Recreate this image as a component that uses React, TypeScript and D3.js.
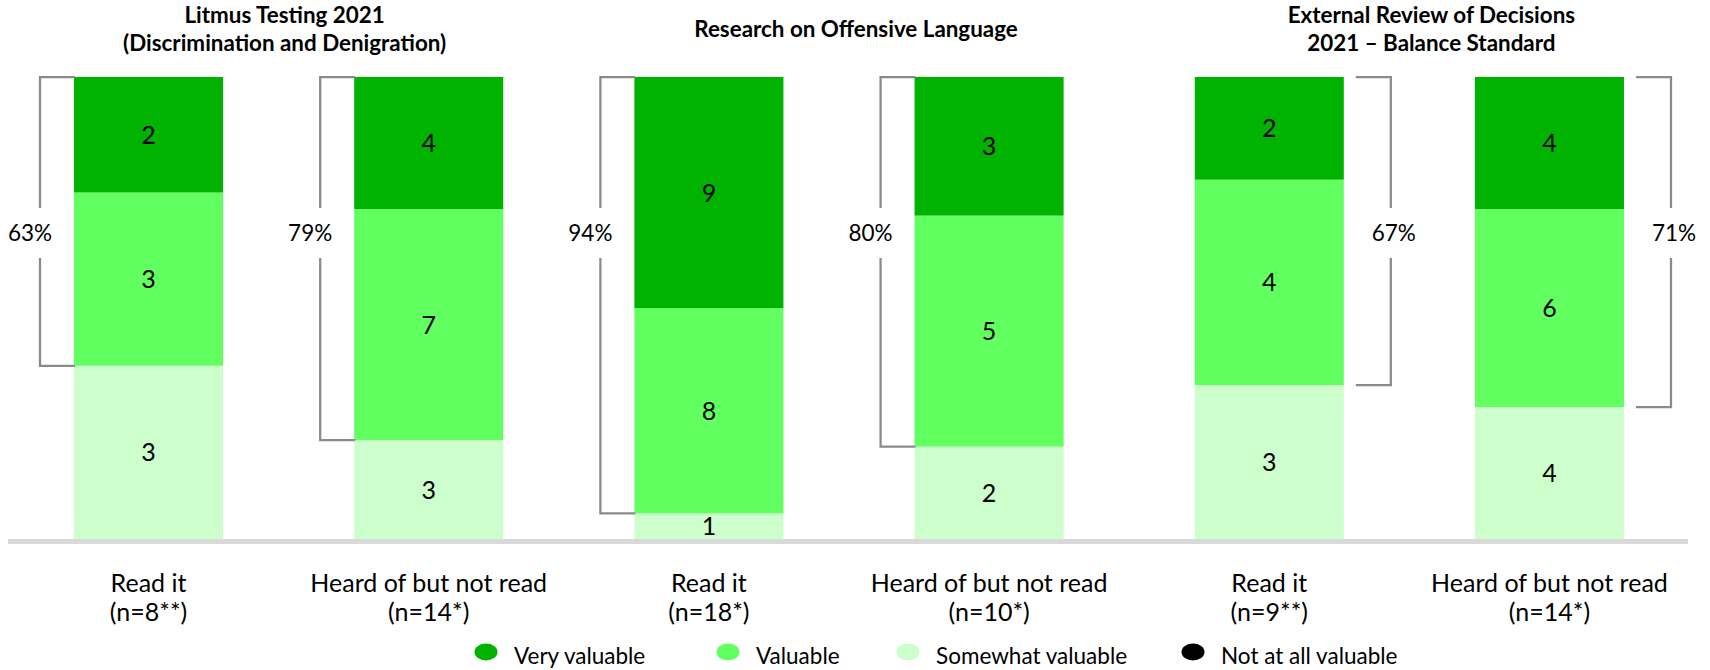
import React, { useEffect, useRef } from "react";
import * as d3 from "d3";

// chart data
const groupTitles = [
  ["Litmus Testing 2021", "(Discrimination and Denigration)"],
  ["Research on Offensive Language"],
  ["External Review of Decisions", "2021 – Balance Standard"],
];
const categories = ["Read it", "Heard of but not read", "Read it", "Heard of but not read", "Read it", "Heard of but not read"];
const sampleSizes = ["(n=8**)", "(n=14*)", "(n=18*)", "(n=10*)", "(n=9**)", "(n=14*)"];
const seriesNames = ["Very valuable", "Valuable", "Somewhat valuable", "Not at all valuable"];
const veryValuable = [2, 4, 9, 3, 2, 4];
const valuable = [3, 7, 8, 5, 4, 6];
const somewhatValuable = [3, 3, 1, 2, 3, 4];
const notAtAllValuable = [0, 0, 0, 0, 0, 0];

// styling / layout
const colors = ["#00b300", "#61ff5f", "#ccffcc", "#000000"];
const font = "Lato, 'Open Sans', sans-serif";
const titleOffsets = [-4, 7, 22];
const legendX = [486, 728, 908, 1193];
const bracketRightGroup = 2;
const pctLabelY = 233;

export default function App() {
  const ref = useRef<SVGSVGElement>(null);

  useEffect(() => {
    const svg = d3.select(ref.current);
    svg.selectAll("*").remove();

    const rows = categories.map((c, i) => ({
      i,
      notAtAll: notAtAllValuable[i],
      somewhat: somewhatValuable[i],
      valuable: valuable[i],
      very: veryValuable[i],
    }));
    const keys = ["notAtAll", "somewhat", "valuable", "very"];
    const keyColor = { very: colors[0], valuable: colors[1], somewhat: colors[2], notAtAll: colors[3] };

    const stacked = d3.stack().keys(keys).offset(d3.stackOffsetExpand)(rows as any);

    const x = d3.scaleBand<number>()
      .domain(d3.range(categories.length))
      .range([74, 1624])
      .paddingInner(0.468)
      .paddingOuter(0);

    const y = d3.scaleLinear().domain([0, 1]).range([539, 77]);

    // bars
    const layer = svg.append("g")
      .selectAll("g")
      .data(stacked)
      .join("g")
        .attr("fill", d => keyColor[d.key]);

    layer.selectAll("rect")
      .data(d => d)
      .join("rect")
        .attr("x", (d: any) => x(d.data.i))
        .attr("y", d => y(d[1]))
        .attr("width", x.bandwidth())
        .attr("height", d => y(d[0]) - y(d[1]));

    // segment labels
    svg.append("g")
      .attr("font-family", font)
      .attr("font-size", 25)
      .attr("text-anchor", "middle")
      .selectAll("g")
      .data(stacked)
      .join("g")
      .selectAll("text")
      .data(d => d.filter((s: any) => s[1] - s[0] > 0).map((s: any) => ({ s, v: s.data[d.key] })))
      .join("text")
        .attr("x", (d: any) => x(d.s.data.i) + x.bandwidth() / 2)
        .attr("y", (d: any) => (y(d.s[0]) + y(d.s[1])) / 2)
        .attr("dy", "0.36em")
        .text((d: any) => d.v);

    // baseline
    svg.append("line")
      .attr("x1", 8).attr("x2", 1688)
      .attr("y1", 541.5).attr("y2", 541.5)
      .attr("stroke", "#d9d9d9")
      .attr("stroke-width", 5);

    // brackets showing share of valuable + very valuable
    const br = svg.append("g");
    rows.forEach(r => {
      const total = r.notAtAll + r.somewhat + r.valuable + r.very;
      const share = (r.valuable + r.very) / total;
      const right = Math.floor(r.i / 2) === bracketRightGroup;
      const top = y(1);
      const bottom = y(1 - share);
      const x0 = x(r.i);
      const x1 = x0 + x.bandwidth();
      const lineX = right ? x1 + 47 : x0 - 34;
      const tickEnd = right ? x1 + 12 : x0 + 1;
      const path = d3.path();
      path.moveTo(tickEnd, top);
      path.lineTo(lineX, top);
      path.lineTo(lineX, pctLabelY - 25);
      path.moveTo(lineX, pctLabelY + 25);
      path.lineTo(lineX, bottom);
      path.lineTo(tickEnd, bottom);
      br.append("path")
        .attr("d", path.toString())
        .attr("fill", "none")
        .attr("stroke", "#8a8a8a")
        .attr("stroke-width", 2.25);
      br.append("text")
        .attr("x", right ? lineX + 3 : lineX - 10)
        .attr("y", pctLabelY)
        .attr("dy", "0.36em")
        .attr("text-anchor", "middle")
        .attr("font-family", font)
        .attr("font-size", 22.5)
        .text(Math.round(share * 100) + "%");
    });

    // category labels
    const cat = svg.append("g")
      .attr("font-family", font)
      .attr("font-size", 25)
      .attr("text-anchor", "middle")
      .selectAll("text")
      .data(categories)
      .join("text")
        .attr("x", (d, i) => x(i) + x.bandwidth() / 2)
        .attr("y", 592);
    cat.append("tspan").text(d => d);
    cat.append("tspan")
      .attr("x", (d, i) => x(i) + x.bandwidth() / 2)
      .attr("dy", 29)
      .text((d, i) => sampleSizes[i]);

    // group titles
    svg.append("g")
      .attr("font-family", font)
      .attr("font-size", 22.4)
      .attr("font-weight", "bold")
      .attr("text-anchor", "middle")
      .selectAll("text")
      .data(groupTitles)
      .join("text")
        .attr("x", (d, g) => (x(2 * g) + x(2 * g + 1) + x.bandwidth()) / 2 + titleOffsets[g])
        .attr("y", d => d.length > 1 ? 23 : 37)
      .selectAll("tspan")
      .data(d => d)
      .join("tspan")
        .attr("x", function () { return (this.parentNode as any).getAttribute("x"); })
        .attr("dy", (d, i) => i === 0 ? 0 : 28)
        .text(d => d);

    // legend
    const leg = svg.append("g")
      .selectAll("g")
      .data(seriesNames)
      .join("g")
        .attr("transform", (d, i) => `translate(${legendX[i]},652)`);
    leg.append("ellipse")
      .attr("rx", 11.5)
      .attr("ry", 8.5)
      .attr("fill", (d, i) => colors[i]);
    leg.append("text")
      .attr("x", 28)
      .attr("y", 12)
      .attr("font-family", font)
      .attr("font-size", 22.5)
      .text(d => d);
  }, []);

  return (
    <svg ref={ref} width={1710} height={670}
      style={{ position: "absolute", left: 0, top: 0, background: "#fff" }} />
  );
}
